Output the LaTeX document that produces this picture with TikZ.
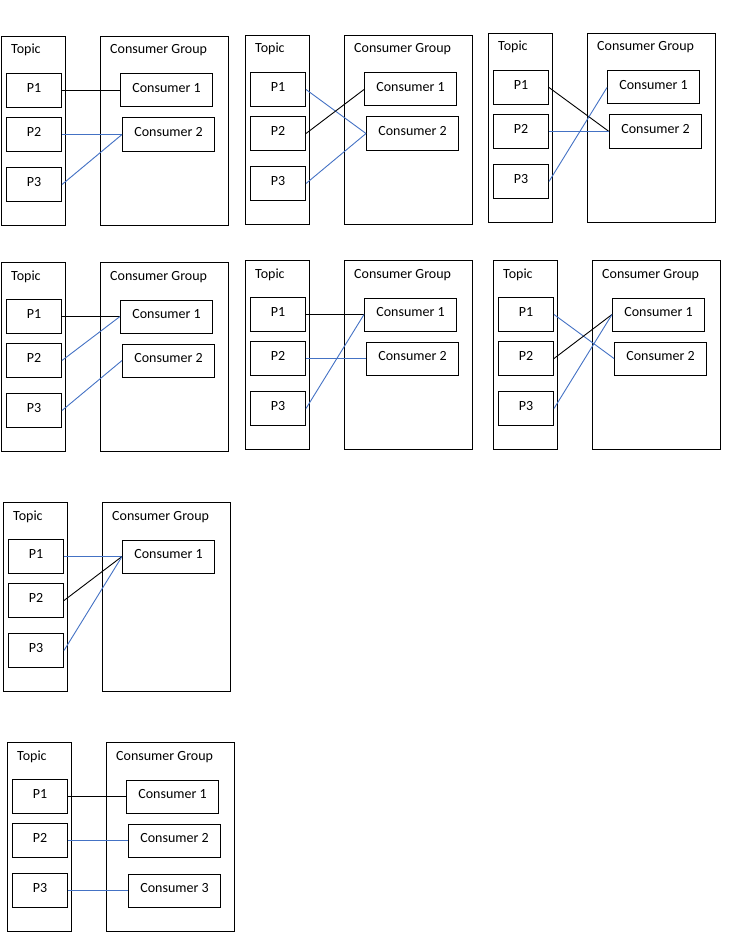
\documentclass[tikz,border=0pt]{standalone}
\usepackage{fontspec}
\setmainfont{Carlito}
\usetikzlibrary{positioning}
\definecolor{linkblue}{HTML}{4472C4}
\tikzset{
    topicbox/.style={rectangle, draw=black, line width=1.1pt, anchor=north west, inner sep=0pt, minimum width=64pt, minimum height=189pt},
    groupbox/.style={rectangle, draw=black, line width=1.1pt, anchor=north west, inner sep=0pt, minimum width=128pt, minimum height=189pt},
    frametitle/.style={anchor=base west, inner sep=0pt, xshift=10pt, yshift=-18pt},
    partbox/.style={rectangle, draw=black, line width=1pt, anchor=north west, minimum width=55pt, minimum height=34pt, text height=9pt, text depth=5pt},
    consumer/.style={rectangle, draw=black, line width=1pt, minimum width=92pt, minimum height=33pt, text height=9pt, text depth=5pt},
    link/.style={draw=black, line width=0.9pt},
    bluelink/.style={draw=linkblue, line width=0.9pt},
}
% one panel: topic frame with three partitions and an empty consumer group frame
\newcommand{\kpanel}[2]{%
    \begin{scope}[shift={#2}]
        \node[topicbox] (#1topic) at (0,0) {};
        \node[groupbox] (#1group) at (99,0) {};
        \node[frametitle] at (#1topic.north west) {Topic};
        \node[frametitle] at (#1group.north west) {Consumer Group};
        \foreach \i/\y in {1/37, 2/81, 3/131}
            \node[partbox] (#1p\i) at (5,\y) {P\i};
    \end{scope}
}
\begin{document}
\begin{tikzpicture}
        [x=1pt, y=-1pt, font=\fontsize{14}{16}\selectfont]
        \useasboundingbox (0,0) rectangle (752,939);

        % Row 1
        \kpanel{a}{(1,36)}
        \node[consumer, right=58pt of ap1] (ac1) {Consumer 1};
        \node[consumer, right=60pt of ap2] (ac2) {Consumer 2};
        \draw[link] (ap1.east) -- (ac1.west);
        \draw[bluelink] (ap2.east) -- (ac2.west);
        \draw[bluelink] (ap3.east) -- (ac2.west);

        \kpanel{b}{(245,35)}
        \node[consumer, right=58pt of bp1] (bc1) {Consumer 1};
        \node[consumer, right=60pt of bp2] (bc2) {Consumer 2};
        \draw[bluelink] (bp1.east) -- (bc2.west);
        \draw[link] (bp2.east) -- (bc1.west);
        \draw[bluelink] (bp3.east) -- (bc2.west);

        \kpanel{c}{(488,33)}
        \node[consumer, right=58pt of cp1] (cc1) {Consumer 1};
        \node[consumer, right=60pt of cp2] (cc2) {Consumer 2};
        \draw[link] (cp1.east) -- (cc2.west);
        \draw[bluelink] (cp2.east) -- (cc2.west);
        \draw[bluelink] (cp3.east) -- (cc1.west);

        % Row 2
        \kpanel{d}{(1,262)}
        \node[consumer, right=58pt of dp1] (dc1) {Consumer 1};
        \node[consumer, right=60pt of dp2] (dc2) {Consumer 2};
        \draw[link] (dp1.east) -- (dc1.west);
        \draw[bluelink] (dp2.east) -- (dc1.west);
        \draw[bluelink] (dp3.east) -- (dc2.west);

        \kpanel{e}{(245,260)}
        \node[consumer, right=58pt of ep1] (ec1) {Consumer 1};
        \node[consumer, right=60pt of ep2] (ec2) {Consumer 2};
        \draw[link] (ep1.east) -- (ec1.west);
        \draw[bluelink] (ep2.east) -- (ec2.west);
        \draw[bluelink] (ep3.east) -- (ec1.west);

        \kpanel{f}{(493,260)}
        \node[consumer, right=58pt of fp1] (fc1) {Consumer 1};
        \node[consumer, right=60pt of fp2] (fc2) {Consumer 2};
        \draw[bluelink] (fp1.east) -- (fc2.west);
        \draw[link] (fp2.east) -- (fc1.west);
        \draw[bluelink] (fp3.east) -- (fc1.west);

        % Row 3
        \kpanel{g}{(3,502)}
        \node[consumer, right=58pt of gp1] (gc1) {Consumer 1};
        \draw[bluelink] (gp1.east) -- (gc1.west);
        \draw[link] (gp2.east) -- (gc1.west);
        \draw[bluelink] (gp3.east) -- (gc1.west);

        % Row 4
        \kpanel{h}{(7,742)}
        \node[consumer, right=58pt of hp1] (hc1) {Consumer 1};
        \node[consumer, right=60pt of hp2] (hc2) {Consumer 2};
        \node[consumer, right=60pt of hp3] (hc3) {Consumer 3};
        \draw[link] (hp1.east) -- (hc1.west);
        \draw[bluelink] (hp2.east) -- (hc2.west);
        \draw[bluelink] (hp3.east) -- (hc3.west);

\end{tikzpicture}
\end{document}
